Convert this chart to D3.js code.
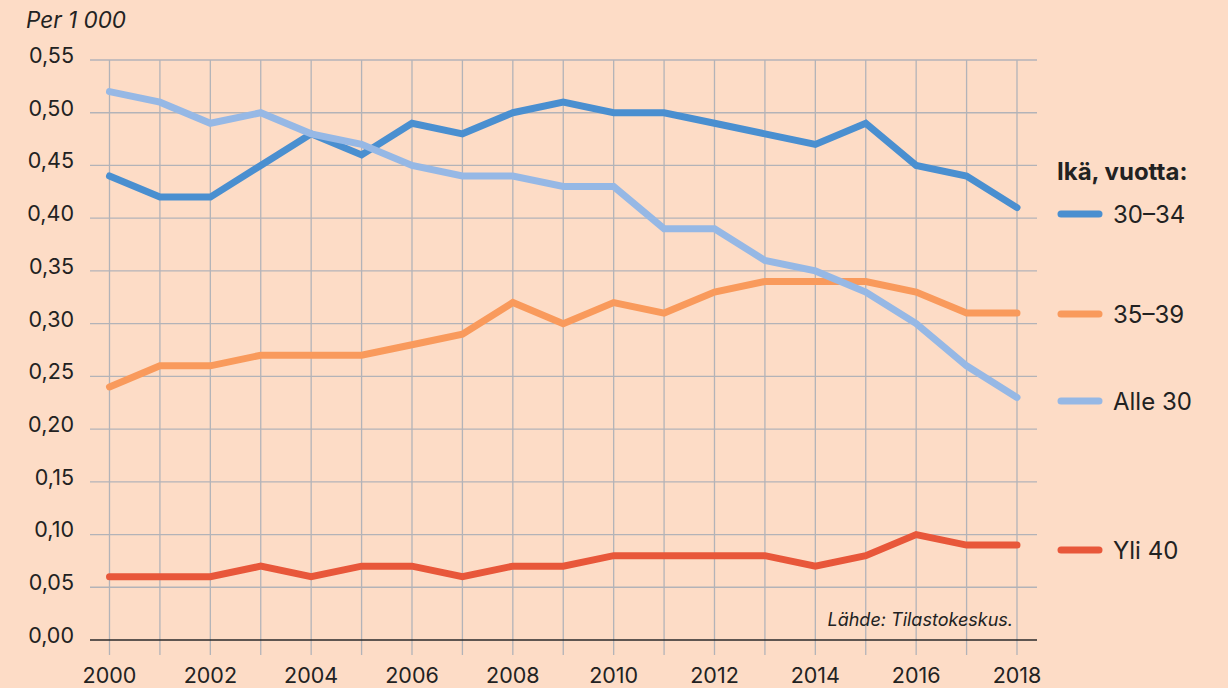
<!DOCTYPE html>
<html>
<head>
<meta charset="utf-8">
<script src="https://cdn.jsdelivr.net/npm/d3@7"></script>
<style>
  html, body { margin: 0; padding: 0; background: #fddcc6; }
  svg { display: block; font-family: Inter, "Noto Sans", sans-serif; }
</style>
</head>
<body>
<div id="chart"></div>
<script>
// Yleisyys per 1 000, ikäryhmittäin

const years = d3.range(2000, 2019);
const yTicks = [0, 0.05, 0.10, 0.15, 0.20, 0.25, 0.30, 0.35, 0.40, 0.45, 0.50, 0.55];
const xTicks = [2000, 2002, 2004, 2006, 2008, 2010, 2012, 2014, 2016, 2018];

const age30to34 = [0.44, 0.42, 0.42, 0.45, 0.48, 0.46, 0.49, 0.48, 0.50, 0.51, 0.50, 0.50, 0.49, 0.48, 0.47, 0.49, 0.45, 0.44, 0.41];
const age35to39 = [0.24, 0.26, 0.26, 0.27, 0.27, 0.27, 0.28, 0.29, 0.32, 0.30, 0.32, 0.31, 0.33, 0.34, 0.34, 0.34, 0.33, 0.31, 0.31];
const under30 = [0.52, 0.51, 0.49, 0.50, 0.48, 0.47, 0.45, 0.44, 0.44, 0.43, 0.43, 0.39, 0.39, 0.36, 0.35, 0.33, 0.30, 0.26, 0.23];
const over40 = [0.06, 0.06, 0.06, 0.07, 0.06, 0.07, 0.07, 0.06, 0.07, 0.07, 0.08, 0.08, 0.08, 0.08, 0.07, 0.08, 0.10, 0.09, 0.09];

const series = [
    { name: "30–34", values: age30to34, color: "#4a8fd0", legendY: 214 },
    { name: "35–39", values: age35to39, color: "#f99a5c", legendY: 314 },
    { name: "Alle 30", values: under30, color: "#96b8e5", legendY: 401 },
    { name: "Yli 40", values: over40, color: "#e8573a", legendY: 550 }
];

const width = 1228;
const height = 688;

const svg = d3.select("#chart")
    .append("svg")
    .attr("width", width)
    .attr("height", height);

svg.append("rect")
    .attr("width", width)
    .attr("height", height)
    .attr("fill", "#fddcc6");

const x = d3.scaleLinear().domain([2000, 2018]).range([109.5, 1017]);
const y = d3.scaleLinear().domain([0, 0.55]).range([640, 60]);

const gridLeft = 90;
const gridRight = 1037;

// horizontal grid
svg.append("g")
    .selectAll("line")
    .data(yTicks.filter(d => d > 0))
    .join("line")
    .attr("x1", gridLeft)
    .attr("x2", gridRight)
    .attr("y1", d => y(d))
    .attr("y2", d => y(d))
    .attr("stroke", "#b3b3b8")
    .attr("stroke-width", 1.3);

// vertical grid, one per year
svg.append("g")
    .selectAll("line")
    .data(years)
    .join("line")
    .attr("x1", d => x(d))
    .attr("x2", d => x(d))
    .attr("y1", y(0.55))
    .attr("y2", 655)
    .attr("stroke", "#b3b3b8")
    .attr("stroke-width", 1.3);

// baseline
svg.append("line")
    .attr("x1", gridLeft)
    .attr("x2", gridRight)
    .attr("y1", y(0))
    .attr("y2", y(0))
    .attr("stroke", "#2a2a2a")
    .attr("stroke-width", 1.6);

// y labels
svg.append("g")
    .selectAll("text")
    .data(yTicks)
    .join("text")
    .attr("x", 74)
    .attr("y", d => y(d) - 3)
    .attr("text-anchor", "end")
    .attr("dominant-baseline", "middle")
    .attr("fill", "#222")
    .style("font-size", "21.5px")
    .text(d => d3.format(".2f")(d).replace(".", ","));

// x labels
svg.append("g")
    .selectAll("text")
    .data(xTicks)
    .join("text")
    .attr("x", d => x(d))
    .attr("y", 683)
    .attr("text-anchor", "middle")
    .attr("fill", "#222")
    .style("font-size", "21.5px")
    .text(d => d);

// unit
svg.append("text")
    .attr("x", 26)
    .attr("y", 28)
    .attr("fill", "#222")
    .style("font-size", "22.5px")
    .style("font-style", "italic")
    .text("Per 1 000");

// source
svg.append("text")
    .attr("x", 1013)
    .attr("y", 626)
    .attr("text-anchor", "end")
    .attr("fill", "#222")
    .style("font-size", "18px")
    .style("font-style", "italic")
    .text("Lähde: Tilastokeskus.");

const line = d3.line()
    .x((d, i) => x(years[i]))
    .y(d => y(d));

svg.append("g")
    .selectAll("path")
    .data(series)
    .join("path")
    .attr("d", d => line(d.values))
    .attr("fill", "none")
    .attr("stroke", d => d.color)
    .attr("stroke-width", 7)
    .attr("stroke-linecap", "round")
    .attr("stroke-linejoin", "miter");

// legend
svg.append("text")
    .attr("x", 1057)
    .attr("y", 180)
    .attr("fill", "#222")
    .style("font-size", "24px")
    .style("font-weight", "bold")
    .text("Ikä, vuotta:");

const legend = svg.append("g")
    .selectAll("g")
    .data(series)
    .join("g")
    .attr("transform", d => `translate(0, ${d.legendY})`);

legend.append("line")
    .attr("x1", 1061)
    .attr("x2", 1099)
    .attr("stroke", d => d.color)
    .attr("stroke-width", 7)
    .attr("stroke-linecap", "round");

legend.append("text")
    .attr("x", 1113)
    .attr("y", 0)
    .attr("dominant-baseline", "central")
    .attr("fill", "#222")
    .style("font-size", "24px")
    .text(d => d.name);
</script>
</body>
</html>
